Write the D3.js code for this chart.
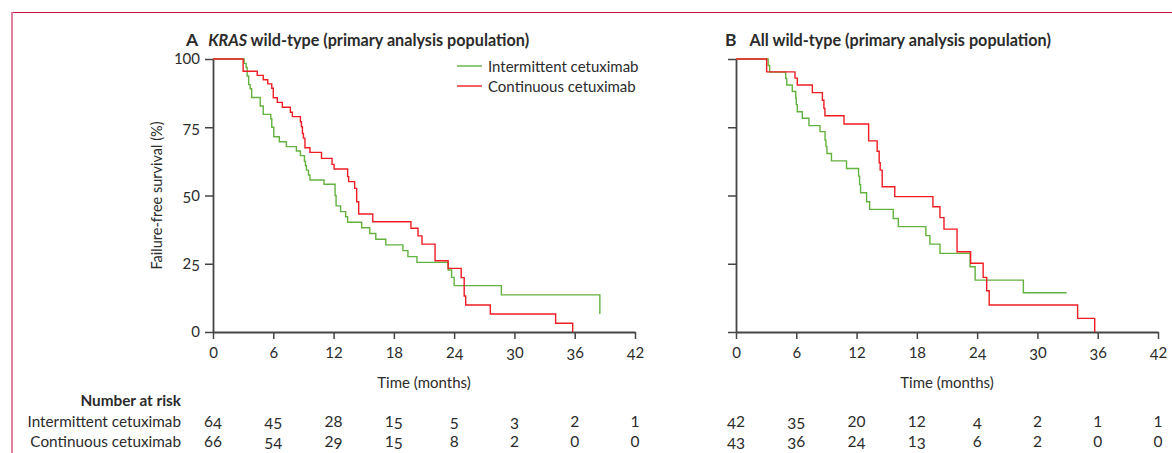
<!DOCTYPE html>
<html>
<head>
<meta charset="utf-8">
<script src="https://cdn.jsdelivr.net/npm/d3@7"></script>
<style>
  html, body { margin: 0; padding: 0; background: #fff; }
  svg { display: block; }
  text { font-family: Lato, "Open Sans", sans-serif; fill: #2b2b2b; }
</style>
</head>
<body>
<svg id="chart" width="1172" height="453"></svg>
<script>
// ---------------- DATA ----------------
const xTicks = [0, 6, 12, 18, 24, 30, 36, 42];
const yTicks = [0, 25, 50, 75, 100];
const riskTimes = [0, 6, 12, 18, 24, 30, 36, 42];
const seriesNames = ["Intermittent cetuximab", "Continuous cetuximab"];

// Panel A: KRAS wild-type — [month, failure-free survival %]
const kmA_intermittent = [
  [0,100],[3.1,98.4],[3.3,96.9],[3.4,93.8],[3.55,90.6],[3.7,89.1],[3.85,85.9],
  [4.7,82.8],[5.0,79.7],[5.75,78.1],[5.85,75.0],[6.05,71.5],[6.6,69.7],[7.3,67.9],
  [8.3,66.3],[8.7,64.6],[9.1,62.5],[9.2,60.9],[9.3,59.3],[9.5,57.5],[9.65,55.7],
  [11.05,54.1],[12.15,50.0],[12.25,46.2],[12.7,44.1],[13.2,42.2],[13.4,40.2],
  [14.8,38.2],[15.6,36.1],[16.2,34.0],[17.2,31.9],[18.9,29.8],[19.4,27.6],
  [20.3,25.5],[23.4,22.7],[23.75,20.0],[24.0,17.0],[28.7,13.6],[38.5,6.6]
];
const kmA_continuous = [
  [0,100],[3.0,95.5],[4.4,94.0],[5.0,92.4],[5.45,90.9],[5.85,89.3],[6.0,85.8],
  [6.4,84.1],[6.9,82.3],[7.7,80.5],[7.9,78.9],[8.7,77.0],[8.8,75.2],[8.9,72.7],
  [9.0,71.0],[9.15,67.5],[9.65,65.8],[10.8,63.6],[11.85,61.4],[12.05,59.7],
  [13.4,56.9],[13.5,55.1],[14.1,52.6],[14.3,47.7],[14.5,43.2],[15.9,40.4],
  [19.7,38.0],[20.4,35.2],[20.8,32.2],[22.1,26.1],[23.4,23.3],[24.7,19.9],
  [25.0,13.2],[25.15,9.9],[27.6,6.6],[34.1,3.2],[35.8,0]
];

// Panel B: All wild-type
const kmB_intermittent = [
  [0,100],[3.2,97.6],[3.35,95.2],[4.95,92.9],[5.05,90.5],[5.6,88.1],[5.95,85.7],
  [6.0,83.3],[6.1,80.7],[6.6,78.3],[7.26,75.6],[8.36,73.4],[8.86,70.3],[8.95,68.0],
  [9.05,65.4],[9.5,62.7],[11.0,59.9],[12.2,57.1],[12.3,54.0],[12.4,51.0],
  [13.0,47.7],[13.3,44.9],[15.65,41.6],[16.15,38.6],[18.9,35.3],[19.3,32.2],
  [20.3,28.8],[23.3,23.9],[23.8,19.0],[28.6,14.4],[32.9,14.4]
];
const kmB_continuous = [
  [0,100],[3.05,95.3],[5.87,93.0],[6.1,90.5],[7.6,87.7],[8.6,84.9],[8.75,81.9],
  [8.85,79.2],[10.75,76.2],[13.2,70.0],[14.05,66.2],[14.25,62.0],[14.35,59.3],
  [14.55,53.2],[15.8,49.6],[19.6,45.9],[20.3,41.9],[20.7,37.7],[22.0,29.4],
  [23.35,25.2],[24.6,20.0],[24.95,15.1],[25.2,9.9],[34.0,5.0],[35.7,0]
];

// Numbers at risk
const riskA_intermittent = [64, 45, 28, 15, 5, 3, 2, 1];
const riskA_continuous   = [66, 54, 29, 15, 8, 2, 0, 0];
const riskB_intermittent = [42, 35, 20, 12, 4, 2, 1, 1];
const riskB_continuous   = [43, 36, 24, 13, 6, 2, 0, 0];

// ---------------- STYLE ----------------
const GREEN = "#63b23f";
const RED = "#ee1d23";
const AXIS = "#454545";

// Mimic the source font's figures: 3,4,5,7,9 sit slightly below the baseline
function hybridDigits(sel, fontPx) {
  const drop = 2;
  sel.each(function () {
    const el = d3.select(this);
    const s = el.text();
    const dyAttr = el.attr("dy");
    let base = 0;
    if (dyAttr) {
      base = dyAttr.endsWith("em") ? parseFloat(dyAttr) * fontPx : parseFloat(dyAttr);
      el.attr("dy", null);
    }
    el.text(null);
    let cur = 0;
    let first = true;
    for (const ch of s) {
      const want = "34579".includes(ch) ? drop : 0;
      el.append("tspan").attr("dy", (first ? base : 0) + want - cur).text(ch);
      cur = want;
      first = false;
    }
  });
}

const svg = d3.select("#chart");

// Frame lines
svg.append("line").attr("x1", 11).attr("x2", 1172).attr("y1", 12.5).attr("y2", 12.5)
  .attr("stroke", "#c5123f").attr("stroke-width", 1.2);
svg.append("line").attr("x1", 12).attr("x2", 12).attr("y1", 12).attr("y2", 453)
  .attr("stroke", "#e27f9c").attr("stroke-width", 2);

const panels = [
  { left: 213, letterX: 186, textDx: 10, letter: "A", titleItalic: "KRAS", title: " wild-type (primary analysis population)",
    data: [kmA_intermittent, kmA_continuous], risk: [riskA_intermittent, riskA_continuous],
    yLabels: true, legend: true, riskHeader: true },
  { left: 736, letterX: 725, textDx: 13, letter: "B", titleItalic: "", title: "All wild-type (primary analysis population)",
    data: [kmB_intermittent, kmB_continuous], risk: [riskB_intermittent, riskB_continuous],
    yLabels: false, legend: false, riskHeader: false }
];

const plotW = 422, plotTop = 59, plotBottom = 332;

panels.forEach(p => {
  const x = d3.scaleLinear().domain([0, 42]).range([p.left, p.left + plotW]);
  const y = d3.scaleLinear().domain([0, 100]).range([plotBottom, plotTop]);

  // Title
  const t = svg.append("text").attr("x", p.letterX).attr("y", 46)
    .style("font-weight", "700").style("font-size", "16.2px");
  t.append("tspan").text(p.letter).style("font-size", "17.5px");
  if (p.titleItalic) {
    t.append("tspan").attr("dx", p.textDx).text(p.titleItalic).style("font-style", "italic");
    t.append("tspan").text(p.title);
  } else {
    t.append("tspan").attr("dx", p.textDx).text(p.title);
  }

  // Y axis
  const yAxis = d3.axisLeft(y).tickValues(yTicks).tickSize(8).tickSizeOuter(0).tickPadding(5)
    .tickFormat(p.yLabels ? d3.format("d") : () => "");
  const gy = svg.append("g").attr("transform", `translate(${p.left},0)`).call(yAxis);
  gy.select(".domain").attr("stroke", AXIS).attr("stroke-width", 1.8);
  gy.selectAll(".tick line").attr("stroke", AXIS).attr("stroke-width", 1.5);
  gy.selectAll(".tick text").style("font-size", "15px").attr("fill", "#2b2b2b").call(hybridDigits, 15);

  // X axis
  const xAxis = d3.axisBottom(x).tickValues(xTicks).tickSize(7).tickSizeOuter(0).tickPadding(8);
  const gx = svg.append("g").attr("transform", `translate(0,${plotBottom})`).call(xAxis);
  gx.select(".domain").attr("stroke", AXIS).attr("stroke-width", 1.8);
  gx.selectAll(".tick line").attr("stroke", AXIS).attr("stroke-width", 1.5);
  gx.selectAll(".tick text").style("font-size", "15px").attr("fill", "#2b2b2b").call(hybridDigits, 15);

  svg.append("text").attr("x", p.left + plotW / 2).attr("y", 388)
    .attr("text-anchor", "middle").style("font-size", "15px").text("Time (months)");

  if (p.yLabels) {
    svg.append("text").attr("transform", `translate(162,${(plotTop + plotBottom) / 2}) rotate(-90)`)
      .attr("text-anchor", "middle").style("font-size", "14.5px").text("Failure-free survival (%)");
  }

  // Curves
  const line = d3.line().x(d => x(d[0])).y(d => y(d[1])).curve(d3.curveStepAfter);
  [GREEN, RED].forEach((c, i) => {
    svg.append("path").datum(p.data[i]).attr("d", line)
      .attr("fill", "none").attr("stroke", c).attr("stroke-width", 1.4);
  });

  // Legend
  if (p.legend) {
    seriesNames.forEach((n, i) => {
      const ly = 66 + i * 20;
      svg.append("line").attr("x1", 457).attr("x2", 482).attr("y1", ly).attr("y2", ly)
        .attr("stroke", i === 0 ? GREEN : RED).attr("stroke-width", 1.4);
      svg.append("text").attr("x", 488).attr("y", ly + 5.5).style("font-size", "15px").text(n);
    });
  }

  // Number at risk
  if (p.riskHeader) {
    svg.append("text").attr("x", 181).attr("y", 406).attr("text-anchor", "end")
      .style("font-size", "15.3px").style("font-weight", "700").text("Number at risk");
    seriesNames.forEach((n, i) => {
      svg.append("text").attr("x", 181).attr("y", 427 + i * 20).attr("text-anchor", "end")
        .style("font-size", "15.3px").text(n);
    });
  }
  p.risk.forEach((row, i) => {
    svg.selectAll(null).data(row).enter().append("text")
      .attr("x", (d, j) => x(riskTimes[j])).attr("y", 427 + i * 20)
      .attr("text-anchor", "middle").style("font-size", "15.5px").text(d => d)
      .call(hybridDigits, 15.5);
  });
});
</script>
</body>
</html>
